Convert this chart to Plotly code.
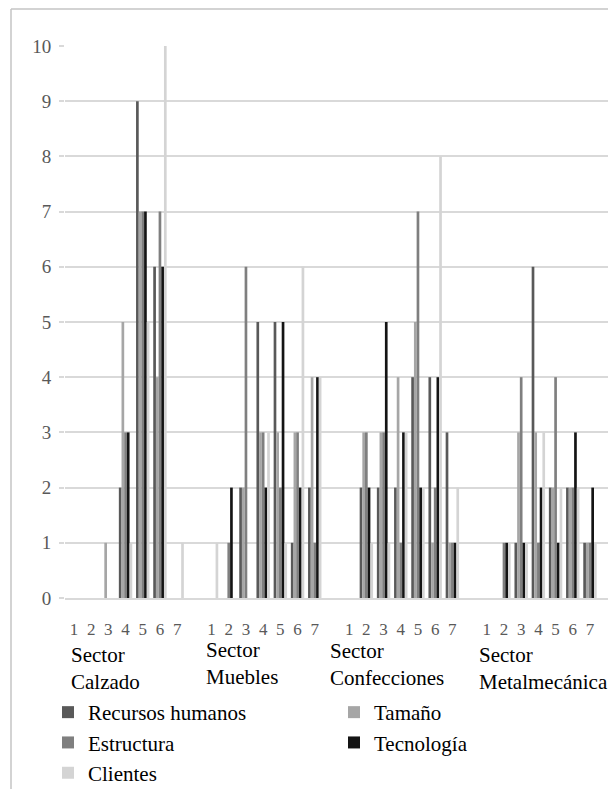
import plotly.graph_objects as go

sectors = ["Sector<br>Calzado", "Sector<br>Muebles", "Sector<br>Confecciones", "Sector<br>Metalmecánica"]
categories = ["1", "2", "3", "4", "5", "6", "7"]
series_names = ["Recursos humanos", "Tamaño", "Estructura", "Tecnología", "Clientes"]

#                   Calzado                Muebles                Confecciones           Metalmecánica
recursos_humanos = [0, 0, 0, 2, 9, 6, 0,   0, 0, 2, 5, 5, 1, 2,   0, 2, 2, 2, 4, 4, 3,   0, 0, 1, 6, 2, 2, 1]
tamano =           [0, 0, 1, 5, 7, 4, 0,   0, 0, 2, 3, 3, 3, 4,   0, 3, 3, 4, 5, 1, 1,   0, 0, 3, 3, 2, 2, 1]
estructura =       [0, 0, 0, 3, 7, 7, 0,   0, 1, 6, 3, 2, 3, 1,   0, 3, 3, 1, 7, 2, 1,   0, 1, 4, 1, 4, 2, 1]
tecnologia =       [0, 0, 0, 3, 7, 6, 0,   0, 2, 0, 2, 5, 2, 4,   0, 2, 5, 3, 2, 4, 1,   0, 1, 1, 2, 1, 3, 2]
clientes =         [0, 0, 0, 1, 5, 10, 1,  1, 0, 0, 3, 1, 6, 4,   0, 1, 1, 3, 2, 8, 2,   0, 1, 1, 3, 2, 2, 1]

series_values = [recursos_humanos, tamano, estructura, tecnologia, clientes]
colors = ["#595959", "#a6a6a6", "#7f7f7f", "#141414", "#d4d4d4"]

# slot positions: each sector holds its 7 categories plus one empty slot as a separator
slots_per_sector = len(categories) + 1
x_pos = [s * slots_per_sector + c for s in range(len(sectors)) for c in range(len(categories))]
tick_text = [categories[c] for s in range(len(sectors)) for c in range(len(categories))]

FONT = "Liberation Serif"

fig = go.Figure()
for name, vals, col in zip(series_names, series_values, colors):
    fig.add_trace(go.Bar(x=x_pos, y=vals, name=name, marker=dict(color=col, line=dict(width=0))))

# the page adds an 8px body margin, so the figure is laid out in screen coords minus 8
OFF = 8
W, H = 616 - OFF, 789 - OFF
ml, mt = 65 - OFF, 46 - OFF
plot_right, plot_bottom = 612 - OFF, 598 - OFF
mr, mb = W - plot_right, H - plot_bottom
pw, ph = W - ml - mr, H - mt - mb

def px(xs):
    return (xs - OFF - ml) / pw

def py(ys):
    return (H - mb - (ys - OFF)) / ph

annotations = []
sector_left = [69, 204, 328, 477]
sector_mid = [668, 663, 664, 668]
for s, name in enumerate(sectors):
    annotations.append(dict(
        text=name, x=px(sector_left[s]), y=py(sector_mid[s]), xref="paper", yref="paper",
        xanchor="left", yanchor="middle", align="left", showarrow=False,
        font=dict(family=FONT, size=21, color="#000000")))

fig.update_layout(
    width=W, height=H,
    margin=dict(l=ml, r=mr, t=mt, b=mb, pad=0, autoexpand=False),
    paper_bgcolor="white", plot_bgcolor="white",
    barmode="group", bargap=0.22, bargroupgap=0,
    showlegend=True,
    legend=dict(orientation="h", x=px(48), y=py(692), xanchor="left", yanchor="top",
                entrywidth=241, entrywidthmode="pixels", itemwidth=30,
                font=dict(family=FONT, size=21, color="#000000"), traceorder="normal"),
    annotations=annotations,
    shapes=[
        dict(type="line", xref="paper", yref="paper", x0=px(11), x1=px(11), y0=py(9), y1=py(800),
             line=dict(color="#c4c4c4", width=1.5)),
        dict(type="line", xref="paper", yref="paper", x0=px(11), x1=px(630), y0=py(9), y1=py(9),
             line=dict(color="#c4c4c4", width=1.5)),
    ],
)
fig.update_xaxes(
    range=[-0.52, 31.28], tickmode="array", tickvals=x_pos, ticktext=tick_text,
    showgrid=False, zeroline=False, showline=True, linecolor="#d9d9d9", linewidth=1.5,
    ticks="", tickfont=dict(family=FONT, size=17, color="#595959"), tickangle=0,
    ticklabelstandoff=15,
)
fig.update_yaxes(
    range=[0, 10], dtick=1, tick0=0, showgrid=True, gridcolor="#d9d9d9", gridwidth=1.5,
    zeroline=False, showline=False, ticks="outside", ticklen=5, tickcolor="#d9d9d9", tickwidth=1.5,
    tickfont=dict(family=FONT, size=19, color="#595959"), ticklabelstandoff=4,
)

fig.write_html("out.html")
